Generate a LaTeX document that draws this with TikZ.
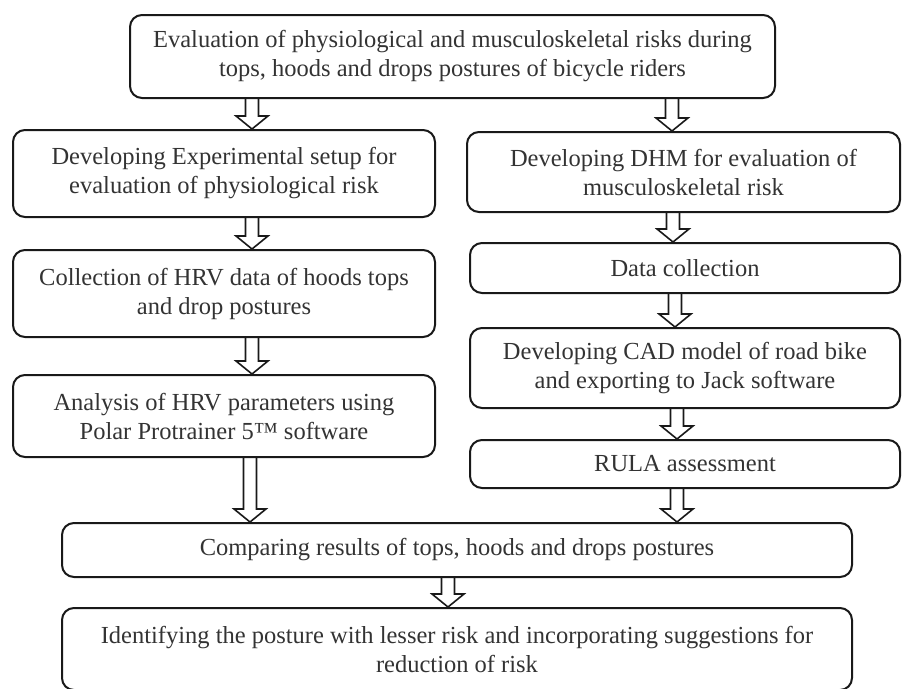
\documentclass[tikz,border=0pt]{standalone}
\usepackage{fontspec}
\setmainfont{Liberation Serif}
\usetikzlibrary{calc}
\begin{document}
\begin{tikzpicture}[x=1pt,y=-1pt,
  box/.style={draw=black!90, line width=2pt, rounded corners=12pt, align=center, inner sep=0pt,
    font=\fontsize{24.5}{29}\selectfont, text=black!80},
  harrow/.style={draw=black!90, line width=1.6pt,
    to path={let \p1=(\tikztostart), \p2=(\tikztotarget) in
      (\x1-6.5pt,\y1) -- (\x1-6.5pt,\y2+13pt) -- (\x1-16pt,\y2+13pt) -- (\x1,\y2)
      -- (\x1+16pt,\y2+13pt) -- (\x1+6.5pt,\y2+13pt) -- (\x1+6.5pt,\y1)}}]
\useasboundingbox (0,0) rectangle (902,688);
\clip (0,0) rectangle (902,688);

\node[box, minimum width=645, minimum height=83] (top) at (452.5,56.5)
  {Evaluation of physiological and musculoskeletal risks during\\tops, hoods and drops postures of bicycle riders};
\node[box, minimum width=422, minimum height=87] (L1) at (224,173.5)
  {Developing Experimental setup for\\evaluation of physiological risk};
\node[box, minimum width=422, minimum height=87] (L2) at (224,293.5)
  {Collection of HRV data of hoods tops\\and drop postures};
\node[box, minimum width=422, minimum height=82] (L3) at (224,416)
  {Analysis of HRV parameters using\\Polar Protrainer 5™ software};
\node[box, minimum width=433, minimum height=80] (R1) at (683.5,172)
  {Developing DHM for evaluation of\\musculoskeletal risk};
\node[box, minimum width=430, minimum height=50] (R2) at (685,268)
  {Data collection};
\node[box, minimum width=430, minimum height=80] (R3) at (685,368)
  {Developing CAD model of road bike\\and exporting to Jack software};
\node[box, minimum width=430, minimum height=48] (R4) at (685,464)
  {RULA assessment};
\node[box, minimum width=790, minimum height=54] (C) at (457,550)
  {Comparing results of tops, hoods and drops postures};
\node[box, minimum width=790, minimum height=82] (F) at (457,649)
  {Identifying the posture with lesser risk and incorporating suggestions for\\reduction of risk};

\draw[harrow] (top.south -| 252,0) to (L1.north -| 252,0);
\draw[harrow] (top.south -| 672,0) to (R1.north -| 672,0);
\draw[harrow] (L1.south -| 252,0) to (L2.north -| 252,0);
\draw[harrow] (L2.south -| 252,0) to (L3.north -| 252,0);
\draw[harrow] (L3.south -| 250,0) to (C.north -| 250,0);
\draw[harrow] (R1.south -| 673,0) to (R2.north -| 673,0);
\draw[harrow] (R2.south -| 675,0) to (R3.north -| 675,0);
\draw[harrow] (R3.south -| 677,0) to (R4.north -| 677,0);
\draw[harrow] (R4.south -| 677,0) to (C.north -| 677,0);
\draw[harrow] (C.south -| 448,0) to (F.north -| 448,0);
\end{tikzpicture}
\end{document}
